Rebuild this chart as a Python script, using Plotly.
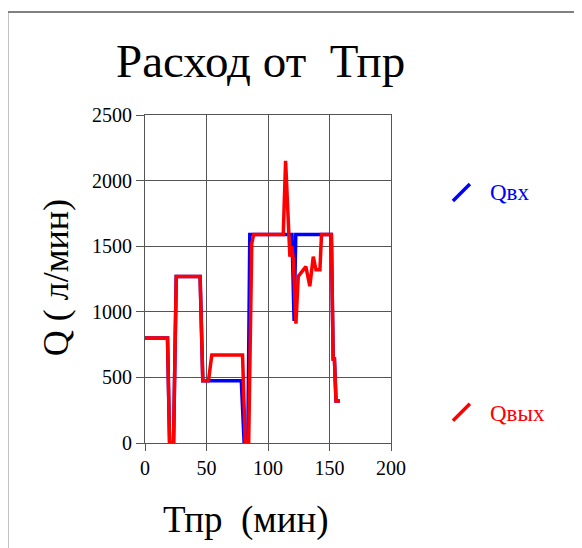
import plotly.graph_objects as go

# Data
t_in = [0, 18.3, 20, 23.2, 25.4, 44.8, 47, 51.6, 78.3, 80.6, 83.6, 85.2, 119.5, 121.2, 122.6, 151.5, 153, 154, 155.3, 158.4]
q_in = [800, 800, 0, 0, 1270, 1270, 475, 475, 475, 0, 0, 1590, 1590, 930, 1590, 1590, 640, 640, 320, 320]

t_out = [0, 18.3, 20, 23.2, 25.4, 44.8, 47, 51.6, 54.3, 79.3, 81.5, 84.3, 86.8, 88.3, 112.4, 114.3, 117.8, 119.2,
         120.6, 122.7, 124.6, 128.6, 130.8, 134, 136.8, 139, 142.2, 143.5, 151.5, 153, 154, 155.3, 158.4]
q_out = [800, 800, 0, 0, 1270, 1270, 475, 475, 670, 670, 0, 0, 1520, 1590, 1590, 2150, 1420, 1500,
         1400, 910, 1270, 1320, 1345, 1195, 1420, 1320, 1320, 1590, 1590, 640, 640, 320, 320]

x_ticks = [0, 50, 100, 150, 200]
y_ticks = [0, 500, 1000, 1500, 2000, 2500]

title_text = "Расход от\u00a0 Тпр"
x_title = "Тпр\u00a0 (мин)"
y_title = "Q ( л/мин)"
name_in = "Qвх"
name_out = "Qвых"

FONT = "Liberation Serif, Times New Roman, serif"

fig = go.Figure()
fig.add_trace(go.Scatter(x=t_in, y=q_in, mode="lines", name=name_in,
                         line=dict(color="#0000ff", width=3.5), showlegend=False))
fig.add_trace(go.Scatter(x=t_out, y=q_out, mode="lines", name=name_out,
                         line=dict(color="#ff0000", width=3.5), showlegend=False))

OFF = 8  # page offset of the figure (body margin)
# plot-area pixel geometry in page coordinates
L, R, T, B = 144.7, 391.0, 115.0, 443.3
W, H = R - L, B - T


def px(xp):
    return (xp - L) / W


def py(yp):
    return (B - yp) / H


fig.update_layout(
    width=582 - OFF, height=548 - OFF,
    margin=dict(l=L - OFF, r=582 - R, t=T - OFF, b=548 - B, pad=0),
    paper_bgcolor="white", plot_bgcolor="white",
    font=dict(family=FONT, color="black"),
    xaxis=dict(range=[0, 200], tickvals=x_ticks, showgrid=True, gridcolor="#555", gridwidth=1,
               showline=True, linecolor="#555", mirror=True, ticks="outside", ticklen=7,
               tickcolor="#555", tickfont=dict(size=20, family=FONT), zeroline=False),
    yaxis=dict(range=[0, 2500], tickvals=y_ticks, showgrid=True, gridcolor="#555", gridwidth=1,
               showline=True, linecolor="#555", mirror=True, ticks="outside", ticklen=8,
               tickcolor="#555", tickfont=dict(size=20, family=FONT), zeroline=False),
)

annotations = [
    dict(text=title_text, x=px(260.5), y=py(61), xref="paper", yref="paper", showarrow=False,
         xanchor="center", yanchor="middle", font=dict(size=47, family=FONT)),
    dict(text=x_title, x=px(246), y=py(520), xref="paper", yref="paper", showarrow=False,
         xanchor="center", yanchor="middle", font=dict(size=37, family=FONT)),
    dict(text=y_title, x=px(55), y=py(278), xref="paper", yref="paper", showarrow=False,
         xanchor="center", yanchor="middle", textangle=-90, font=dict(size=36, family=FONT)),
    dict(text=name_in, x=px(488), y=py(193), xref="paper", yref="paper", showarrow=False,
         xanchor="left", yanchor="middle", font=dict(size=23, family=FONT, color="#0000ff")),
    dict(text=name_out, x=px(488), y=py(414), xref="paper", yref="paper", showarrow=False,
         xanchor="left", yanchor="middle", font=dict(size=23, family=FONT, color="#ff0000")),
]
fig.update_layout(annotations=annotations)

shapes = [
    dict(type="rect", xref="paper", yref="paper", x0=px(7), x1=px(700), y0=py(700), y1=py(12),
         line=dict(color="#808080", width=2), fillcolor="rgba(0,0,0,0)", layer="below"),
    dict(type="line", xref="paper", yref="paper", x0=px(453), y0=py(201), x1=px(470), y1=py(184),
         line=dict(color="#0000ff", width=3.5)),
    dict(type="line", xref="paper", yref="paper", x0=px(453), y0=py(421), x1=px(470), y1=py(404),
         line=dict(color="#ff0000", width=3.5)),
]
fig.update_layout(shapes=shapes)

fig.write_html("out.html")
